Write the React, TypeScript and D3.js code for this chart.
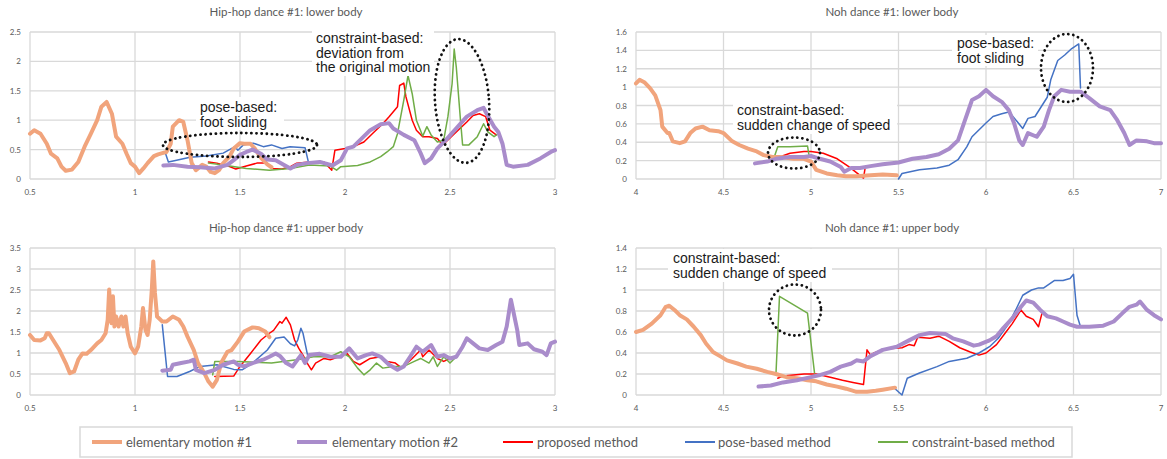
import React from "react";
import * as d3 from "d3";

type Pt = [number, number];

// ---- Hip-hop dance #1: lower body
const hipLowerEm1: Pt[] = [[0.5,0.77],[0.52,0.83],[0.55,0.77],[0.58,0.6],[0.6,0.43],[0.63,0.35],[0.65,0.21],[0.67,0.14],[0.7,0.16],[0.73,0.29],[0.76,0.55],[0.79,0.77],[0.82,1.0],[0.84,1.23],[0.865,1.31],[0.89,1.11],[0.91,0.72],[0.94,0.6],[0.96,0.43],[0.98,0.27],[1.0,0.21],[1.02,0.1],[1.04,0.18],[1.06,0.27],[1.09,0.39],[1.11,0.42],[1.13,0.44],[1.15,0.46],[1.17,0.6],[1.18,0.89],[1.21,1.0],[1.23,0.97],[1.25,0.66],[1.27,0.27],[1.29,0.15],[1.32,0.24],[1.34,0.21],[1.36,0.12],[1.38,0.1],[1.4,0.15],[1.42,0.27],[1.45,0.38],[1.47,0.52],[1.5,0.61],[1.52,0.6],[1.55,0.6],[1.57,0.52],[1.6,0.36],[1.63,0.25],[1.65,0.2]];
const hipLowerEm2: Pt[] = [[1.135,0.23],[1.18,0.24],[1.25,0.21],[1.31,0.2],[1.38,0.18],[1.44,0.24],[1.47,0.32],[1.5,0.41],[1.53,0.46],[1.56,0.5],[1.6,0.43],[1.63,0.33],[1.67,0.32],[1.71,0.24],[1.74,0.18],[1.77,0.24],[1.82,0.27],[1.88,0.29],[1.94,0.23],[1.98,0.32],[2.01,0.52],[2.04,0.55],[2.08,0.69],[2.12,0.83],[2.17,0.93],[2.21,0.95],[2.23,0.86],[2.28,0.75],[2.33,0.66],[2.36,0.44],[2.38,0.27],[2.41,0.35],[2.44,0.52],[2.48,0.66],[2.53,0.86],[2.58,1.06],[2.63,1.17],[2.66,1.21],[2.67,1.14],[2.71,0.89],[2.73,0.8],[2.75,0.6],[2.77,0.24],[2.8,0.21],[2.87,0.24],[2.93,0.35],[2.98,0.46],[3.0,0.49]];
const hipLowerProp: Pt[] = [[1.35,0.29],[1.39,0.27],[1.45,0.21],[1.48,0.17],[1.53,0.22],[1.58,0.27],[1.63,0.27],[1.65,0.18],[1.7,0.17],[1.74,0.21],[1.77,0.27],[1.83,0.29],[1.9,0.29],[1.937,0.15],[1.952,0.49],[2.0,0.52],[2.04,0.55],[2.09,0.63],[2.13,0.77],[2.18,0.94],[2.21,1.06],[2.25,1.23],[2.26,1.59],[2.28,1.63],[2.29,1.4],[2.32,1.0],[2.34,0.83],[2.37,0.72],[2.4,0.72],[2.44,0.69],[2.46,0.6],[2.48,0.63],[2.53,0.8],[2.58,0.97],[2.61,1.08],[2.64,1.11],[2.67,1.06],[2.69,0.83],[2.72,0.75]];
const hipLowerPose: Pt[] = [[1.143,0.46],[1.159,0.29],[1.198,0.32],[1.262,0.37],[1.34,0.39],[1.42,0.44],[1.476,0.55],[1.49,0.49],[1.516,0.58],[1.563,0.61],[1.611,0.55],[1.65,0.58],[1.7,0.52],[1.738,0.55],[1.81,0.53],[1.825,0.3]];
const hipLowerCons: Pt[] = [[1.35,0.27],[1.42,0.24],[1.53,0.18],[1.64,0.15],[1.74,0.18],[1.83,0.24],[1.93,0.22],[1.96,0.15],[1.98,0.21],[2.06,0.23],[2.12,0.29],[2.17,0.38],[2.2,0.46],[2.23,0.55],[2.25,0.77],[2.28,1.34],[2.3,1.76],[2.32,1.45],[2.34,1.0],[2.37,0.73],[2.39,0.89],[2.41,0.75],[2.44,0.63],[2.47,0.66],[2.49,1.06],[2.51,1.62],[2.52,2.21],[2.53,1.9],[2.55,1.0],[2.56,0.58],[2.59,0.58],[2.63,0.72],[2.66,0.94],[2.68,0.8],[2.71,0.72],[2.73,0.77]];

// ---- Noh dance #1: lower body
const nohLowerEm1: Pt[] = [[4.0,1.04],[4.02,1.08],[4.05,1.05],[4.08,0.99],[4.11,0.91],[4.14,0.75],[4.15,0.57],[4.18,0.5],[4.19,0.5],[4.21,0.41],[4.25,0.39],[4.28,0.41],[4.31,0.5],[4.34,0.55],[4.38,0.57],[4.42,0.53],[4.47,0.52],[4.5,0.5],[4.55,0.41],[4.59,0.37],[4.64,0.33],[4.69,0.3],[4.73,0.26],[4.78,0.24],[4.83,0.24],[4.9,0.22],[4.96,0.22],[5.0,0.19],[5.03,0.1],[5.09,0.06],[5.15,0.04],[5.2,0.03],[5.26,0.03],[5.34,0.04],[5.41,0.05],[5.49,0.04]];
const nohLowerEm2: Pt[] = [[4.68,0.17],[4.75,0.19],[4.8,0.22],[4.88,0.24],[4.96,0.24],[5.0,0.25],[5.05,0.22],[5.11,0.19],[5.17,0.13],[5.19,0.08],[5.23,0.12],[5.28,0.12],[5.34,0.14],[5.41,0.16],[5.5,0.18],[5.58,0.22],[5.66,0.24],[5.73,0.27],[5.79,0.33],[5.84,0.42],[5.88,0.64],[5.92,0.86],[5.96,0.9],[6.0,0.97],[6.04,0.9],[6.09,0.84],[6.13,0.75],[6.16,0.61],[6.19,0.42],[6.21,0.37],[6.24,0.5],[6.29,0.46],[6.33,0.57],[6.36,0.75],[6.39,0.9],[6.43,0.97],[6.48,0.95],[6.54,0.95],[6.59,0.88],[6.65,0.79],[6.71,0.75],[6.75,0.64],[6.79,0.5],[6.82,0.37],[6.86,0.42],[6.92,0.41],[6.96,0.39],[7.0,0.39]];
const nohLowerProp: Pt[] = [[4.82,0.24],[4.88,0.28],[4.96,0.3],[5.0,0.3],[5.07,0.28],[5.15,0.22],[5.22,0.13],[5.28,0.04],[5.3,0.01],[5.31,0.13]];
const nohLowerPose: Pt[] = [[5.5,0.0],[5.52,0.06],[5.62,0.1],[5.72,0.12],[5.79,0.15],[5.84,0.21],[5.89,0.35],[5.92,0.46],[6.0,0.61],[6.04,0.68],[6.09,0.71],[6.13,0.73],[6.15,0.69],[6.18,0.62],[6.21,0.55],[6.24,0.66],[6.28,0.68],[6.32,0.8],[6.35,0.89],[6.37,1.08],[6.41,1.29],[6.45,1.35],[6.49,1.42],[6.53,1.47],[6.54,0.99]];
const nohLowerCons: Pt[] = [[4.79,0.24],[4.81,0.35],[4.88,0.35],[4.98,0.36],[4.99,0.24]];

// ---- Hip-hop dance #1: upper body
const hipUpperEm1: Pt[] = [[0.5,1.43],[0.52,1.31],[0.55,1.3],[0.57,1.35],[0.58,1.47],[0.59,1.47],[0.61,1.31],[0.64,1.07],[0.67,0.76],[0.69,0.52],[0.71,0.56],[0.73,0.84],[0.75,0.99],[0.77,0.98],[0.79,1.07],[0.82,1.23],[0.84,1.31],[0.86,1.47],[0.87,1.79],[0.877,2.51],[0.883,2.03],[0.888,1.71],[0.895,2.35],[0.902,1.63],[0.91,1.87],[0.922,1.63],[0.935,1.87],[0.945,1.63],[0.955,1.87],[0.965,1.47],[0.98,1.15],[1.0,0.99],[1.015,1.15],[1.03,1.63],[1.038,2.07],[1.05,1.55],[1.06,1.43],[1.07,1.79],[1.08,2.51],[1.087,3.18],[1.095,2.43],[1.105,1.87],[1.13,1.75],[1.15,1.75],[1.18,1.87],[1.21,1.79],[1.23,1.63],[1.25,1.39],[1.28,1.07],[1.3,0.76],[1.33,0.52],[1.35,0.32],[1.37,0.2],[1.39,0.36],[1.41,0.76],[1.44,1.03],[1.46,1.07],[1.49,1.27],[1.52,1.51],[1.56,1.61],[1.59,1.59],[1.62,1.51],[1.64,1.38]];
const hipUpperEm2: Pt[] = [[1.13,0.58],[1.17,0.6],[1.18,0.72],[1.22,0.76],[1.26,0.8],[1.28,0.84],[1.29,0.6],[1.33,0.52],[1.38,0.6],[1.42,0.72],[1.47,0.8],[1.49,0.72],[1.52,0.68],[1.56,0.76],[1.61,0.84],[1.64,0.91],[1.67,0.99],[1.69,0.93],[1.72,0.76],[1.75,0.68],[1.79,0.95],[1.81,0.76],[1.83,0.95],[1.88,0.98],[1.93,0.91],[1.98,0.91],[2.02,1.11],[2.06,0.87],[2.1,0.95],[2.13,0.99],[2.17,0.91],[2.21,0.72],[2.25,0.6],[2.28,0.68],[2.31,0.91],[2.34,1.15],[2.37,1.03],[2.41,1.19],[2.44,0.91],[2.47,0.95],[2.5,0.87],[2.53,0.91],[2.56,1.15],[2.58,1.35],[2.61,1.23],[2.64,1.11],[2.68,1.07],[2.72,1.19],[2.75,1.27],[2.77,1.63],[2.79,2.27],[2.8,2.03],[2.82,1.55],[2.83,1.19],[2.87,1.23],[2.9,1.09],[2.94,1.03],[2.96,0.95],[2.98,1.23],[3.0,1.27]];
const hipUpperProp: Pt[] = [[1.38,0.44],[1.47,0.45],[1.5,0.68],[1.55,0.99],[1.6,1.31],[1.64,1.47],[1.66,1.54],[1.69,1.75],[1.7,1.71],[1.72,1.85],[1.74,1.67],[1.76,1.31],[1.78,1.11],[1.8,0.95],[1.82,0.76],[1.84,0.6],[1.86,0.76],[1.9,0.87],[1.93,0.84],[1.97,0.91],[2.01,0.99],[2.04,0.8],[2.07,0.72],[2.12,0.87],[2.17,0.91],[2.2,0.8],[2.24,0.76],[2.27,0.64],[2.32,0.87],[2.36,1.07],[2.37,0.91],[2.4,1.07],[2.44,0.87],[2.47,0.8],[2.5,0.87],[2.53,0.91]];
const hipUpperPose: Pt[] = [[1.13,1.67],[1.155,0.44],[1.2,0.44],[1.26,0.56],[1.31,0.68],[1.39,0.72],[1.47,0.61],[1.51,0.6],[1.56,0.76],[1.63,1.07],[1.67,1.35],[1.71,1.38],[1.74,1.22],[1.76,1.17],[1.775,1.31],[1.79,1.59],[1.8,1.47],[1.82,0.99],[1.825,0.87]];
const hipUpperCons: Pt[] = [[1.37,0.48],[1.38,0.8],[1.49,0.8],[1.65,0.76],[1.77,0.84],[1.85,0.91],[1.93,0.91],[1.98,1.03],[2.02,0.91],[2.06,0.64],[2.09,0.48],[2.12,0.6],[2.15,0.76],[2.18,0.64],[2.23,0.68],[2.28,0.68],[2.33,0.8],[2.36,0.87],[2.4,0.76],[2.42,0.91],[2.44,0.68],[2.47,0.91],[2.5,0.76],[2.53,0.91]];

// ---- Noh dance #1: upper body
const nohUpperEm1: Pt[] = [[4.0,0.6],[4.04,0.62],[4.09,0.68],[4.14,0.76],[4.17,0.84],[4.19,0.85],[4.22,0.81],[4.25,0.76],[4.29,0.72],[4.33,0.65],[4.37,0.57],[4.4,0.49],[4.44,0.41],[4.48,0.37],[4.52,0.33],[4.58,0.3],[4.63,0.27],[4.69,0.25],[4.75,0.22],[4.8,0.2],[4.86,0.17],[4.92,0.16],[4.98,0.14],[5.03,0.13],[5.09,0.1],[5.15,0.08],[5.2,0.06],[5.26,0.03],[5.32,0.03],[5.37,0.04],[5.41,0.05],[5.48,0.07]];
const nohUpperEm2: Pt[] = [[4.7,0.08],[4.77,0.09],[4.84,0.12],[4.92,0.14],[5.0,0.17],[5.05,0.19],[5.11,0.22],[5.17,0.27],[5.23,0.3],[5.26,0.33],[5.3,0.32],[5.34,0.37],[5.41,0.43],[5.49,0.46],[5.56,0.52],[5.62,0.57],[5.68,0.59],[5.77,0.58],[5.81,0.54],[5.87,0.51],[5.93,0.47],[5.96,0.48],[6.02,0.52],[6.06,0.56],[6.1,0.64],[6.15,0.73],[6.2,0.84],[6.23,0.9],[6.27,0.88],[6.31,0.81],[6.35,0.75],[6.4,0.73],[6.44,0.7],[6.48,0.67],[6.52,0.65],[6.59,0.65],[6.67,0.66],[6.73,0.7],[6.78,0.78],[6.82,0.84],[6.86,0.86],[6.88,0.89],[6.92,0.81],[6.96,0.76],[7.0,0.72]];
const nohUpperProp: Pt[] = [[4.81,0.16],[4.84,0.18],[4.96,0.2],[5.03,0.2],[5.11,0.17],[5.18,0.14],[5.24,0.12],[5.3,0.1],[5.32,0.43],[5.34,0.38],[5.36,0.4],[5.39,0.42],[5.44,0.44],[5.52,0.45],[5.56,0.48],[5.59,0.47],[5.61,0.55],[5.68,0.54],[5.73,0.56],[5.79,0.51],[5.85,0.45],[5.91,0.41],[5.96,0.38],[6.0,0.4],[6.06,0.48],[6.11,0.59],[6.15,0.68],[6.2,0.81],[6.23,0.75],[6.27,0.72],[6.3,0.65],[6.32,0.78]];
const nohUpperPose: Pt[] = [[5.48,0.06],[5.52,0.0],[5.55,0.16],[5.62,0.21],[5.72,0.27],[5.79,0.32],[5.89,0.35],[5.96,0.4],[6.02,0.46],[6.07,0.54],[6.13,0.68],[6.17,0.81],[6.21,0.95],[6.26,1.0],[6.3,1.02],[6.33,1.02],[6.39,1.09],[6.44,1.09],[6.48,1.11],[6.5,1.15],[6.52,0.76],[6.54,0.65]];
const nohUpperCons: Pt[] = [[4.8,0.21],[4.82,0.94],[4.98,0.78],[5.02,0.21]];

const hipXTicks = [0.5, 1, 1.5, 2, 2.5, 3];
const nohXTicks = [4, 4.5, 5, 5.5, 6, 6.5, 7];

const seriesNames = ["elementary motion #1", "elementary motion #2", "proposed method", "pose-based method", "constraint-based method"];
const seriesColors = ["#F1A47C", "#A98CCB", "#FF0000", "#4472C4", "#70AD47"];
const seriesWidths = [4, 4, 1.5, 1.5, 1.5];
// draw order: methods first, elementary motions on top
const drawOrder = [2, 3, 4, 0, 1];

interface Note { lines: string[]; x: number; y: number; box: [number, number, number, number] }
interface Ell { cx: number; cy: number; rx: number; ry: number; rot?: number }

const panels = [
  { title: "Hip-hop dance #1: lower body", titleX: 286, x0: 0.5, x1: 3, xTicks: hipXTicks, yMax: 2.5, yStep: 0.5,
    left: 30, right: 555, top: 32, bottom: 179,
    data: [hipLowerEm1, hipLowerEm2, hipLowerProp, hipLowerPose, hipLowerCons],
    notes: [
      { lines: ["pose-based:", "foot sliding"], x: 200, y: 112, box: [196, 97, 88, 33] },
      { lines: ["constraint-based:", "deviation from", "the original motion"], x: 316, y: 43, box: [312, 29, 122, 47] },
    ] as Note[],
    ells: [{ cx: 240, cy: 145, rx: 77, ry: 12 }, { cx: 462, cy: 101, rx: 27, ry: 62, rot: -4 }] as Ell[] },
  { title: "Noh dance #1: lower body", titleX: 892, x0: 4, x1: 7, xTicks: nohXTicks, yMax: 1.6, yStep: 0.2,
    left: 636, right: 1161, top: 32, bottom: 179,
    data: [nohLowerEm1, nohLowerEm2, nohLowerProp, nohLowerPose, nohLowerCons],
    notes: [
      { lines: ["constraint-based:", "sudden change of speed"], x: 737, y: 115, box: [733, 102, 164, 32] },
      { lines: ["pose-based:", "foot sliding"], x: 957, y: 48, box: [952, 35, 86, 31] },
    ] as Note[],
    ells: [{ cx: 794, cy: 153, rx: 26, ry: 15.5 }, { cx: 1067, cy: 68, rx: 26, ry: 34 }] as Ell[] },
  { title: "Hip-hop dance #1: upper body", titleX: 286, x0: 0.5, x1: 3, xTicks: hipXTicks, yMax: 3.5, yStep: 0.5,
    left: 30, right: 555, top: 248, bottom: 395,
    data: [hipUpperEm1, hipUpperEm2, hipUpperProp, hipUpperPose, hipUpperCons],
    notes: [] as Note[], ells: [] as Ell[] },
  { title: "Noh dance #1: upper body", titleX: 892, x0: 4, x1: 7, xTicks: nohXTicks, yMax: 1.4, yStep: 0.2,
    left: 636, right: 1161, top: 248, bottom: 395,
    data: [nohUpperEm1, nohUpperEm2, nohUpperProp, nohUpperPose, nohUpperCons],
    notes: [
      { lines: ["constraint-based:", "sudden change of speed"], x: 673, y: 263, box: [668, 249, 164, 33] },
    ] as Note[],
    ells: [{ cx: 795, cy: 310, rx: 26, ry: 25.5 }] as Ell[] },
];

// legend item x positions (line start, text start)
const legendPos: [number, number][] = [[92, 126], [297, 332], [503, 537], [685, 718], [878, 912]];

const fmt = (v: number) => String(+v.toFixed(1));
const GRID = "#D9D9D9";
const LABEL = "#595959";
const UI_FONT = "Lato, 'Noto Sans', sans-serif";
const NOTE_FONT = "'Liberation Sans', Arial, sans-serif";

function Panel({ p }: { p: (typeof panels)[number] }) {
  const x = d3.scaleLinear().domain([p.x0, p.x1]).range([p.left, p.right]);
  const y = d3.scaleLinear().domain([0, p.yMax]).range([p.bottom, p.top]);
  const yTicks = d3.range(0, p.yMax + p.yStep / 2, p.yStep);
  const line = d3.line<Pt>().x((d) => x(d[0])).y((d) => y(d[1]));

  return (
    <g>
      <text x={p.titleX} y={p.top - 16} textAnchor="middle" fontSize={11.5} fill={LABEL} fontFamily={UI_FONT}>
        {p.title}
      </text>
      {yTicks.map((t) => (
        <g key={"y" + t}>
          <line x1={p.left} x2={p.right} y1={y(t)} y2={y(t)} stroke={GRID} strokeWidth={1.3} />
          <text x={p.left - 9} y={y(t) + 3} textAnchor="end" fontSize={8} fill={LABEL} fontFamily={UI_FONT}>
            {fmt(t)}
          </text>
        </g>
      ))}
      {p.xTicks.map((t) => (
        <g key={"x" + t}>
          <line x1={x(t)} x2={x(t)} y1={p.top} y2={p.bottom} stroke={GRID} strokeWidth={1.3} />
          <text x={x(t)} y={p.bottom + 16} textAnchor="middle" fontSize={8} fill={LABEL} fontFamily={UI_FONT}>
            {fmt(t)}
          </text>
        </g>
      ))}
      {drawOrder.map((i) => (
        <path key={"s" + i} d={line(p.data[i]) || ""} fill="none" stroke={seriesColors[i]}
          strokeWidth={seriesWidths[i]} strokeLinejoin="round" strokeLinecap="round" />
      ))}
      {p.notes.map((n, k) => (
        <g key={"n" + k}>
          <rect x={n.box[0]} y={n.box[1]} width={n.box[2]} height={n.box[3]} fill="#fff" />
          {n.lines.map((s, j) => (
            <text key={j} x={n.x} y={n.y + j * 14.5} fontSize={14} fill="#1a1a1a" fontFamily={NOTE_FONT}>
              {s}
            </text>
          ))}
        </g>
      ))}
      {p.ells.map((e, k) => (
        <ellipse key={"e" + k} cx={e.cx} cy={e.cy} rx={e.rx} ry={e.ry} fill="none" stroke="#111"
          strokeWidth={2.8} strokeDasharray="0.1 5" strokeLinecap="round"
          transform={e.rot ? `rotate(${e.rot},${e.cx},${e.cy})` : undefined} />
      ))}
    </g>
  );
}

export default function App() {
  return (
    <svg width={1167} height={459} style={{ position: "absolute", left: 0, top: 0, background: "#fff" }}>
      <rect width={1167} height={459} fill="#fff" />
      {panels.map((p, i) => (
        <Panel key={i} p={p} />
      ))}
      <rect x={80} y={427} width={992} height={30} fill="#fff" stroke={GRID} strokeWidth={1.5} />
      {seriesNames.map((name, i) => (
        <g key={name}>
          <line x1={legendPos[i][0]} x2={legendPos[i][0] + 30} y1={442} y2={442} stroke={seriesColors[i]}
            strokeWidth={seriesWidths[i] === 4 ? 4 : 2} />
          <text x={legendPos[i][1]} y={446.5} fontSize={13} fill={LABEL} fontFamily={UI_FONT}>
            {name}
          </text>
        </g>
      ))}
    </svg>
  );
}
